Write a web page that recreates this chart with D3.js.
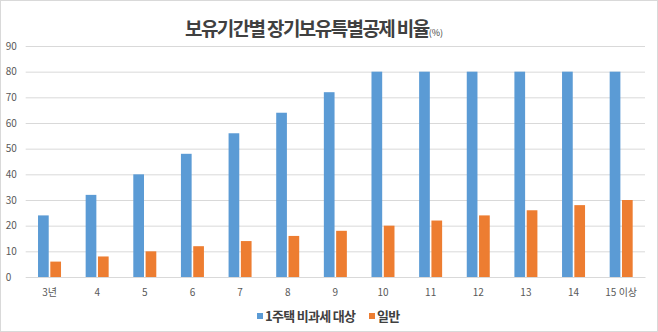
<!DOCTYPE html>
<html><head><meta charset="utf-8">
<script src="https://cdn.jsdelivr.net/npm/d3@7"></script>
<style>
html,body{margin:0;padding:0;background:#fff;}
svg{display:block;font-family:"Noto Sans CJK KR","Noto Sans",sans-serif;}
</style></head>
<body><svg id="c" width="658" height="332"></svg>
<script>
const categories = ["3년","4","5","6","7","8","9","10","11","12","13","14","15 이상"];
const seriesNames = ["1주택 비과세 대상","일반"];
const oneHouse = [24,32,40,48,56,64,72,80,80,80,80,80,80];
const general = [6,8,10,12,14,16,18,20,22,24,26,28,30];
const yTicks = [0,10,20,30,40,50,60,70,80,90];
const colors = ["#5B9BD5","#ED7D31"];

(function(){
const svg = d3.select("#c");
svg.append("rect").attr("x",0.5).attr("y",0.5).attr("width",657).attr("height",331)
  .attr("fill","#fff").attr("stroke","#d9d9d9");

const pl = 25.7, pr = 645, pt = 46, pb = 277;
const x = d3.scaleBand().domain(categories).range([pl,pr]).paddingInner(0).paddingOuter(0);
const y = d3.scaleLinear().domain([0,90]).range([pb,pt]);

const gy = svg.append("g").attr("transform",`translate(${pl},0)`)
  .call(d3.axisLeft(y).tickValues(yTicks).tickSize(-(pr-pl)).tickPadding(0));
gy.select(".domain").remove();
gy.selectAll(".tick line").attr("stroke","#d9d9d9").attr("stroke-width",1);
gy.selectAll(".tick text").attr("x",-20).attr("text-anchor","start")
  .attr("fill","#595959").style("font-size","10px").style("font-family","'Noto Sans CJK KR',sans-serif");

const gx = svg.append("g").attr("transform",`translate(0,${pb})`)
  .call(d3.axisBottom(x).tickSize(0).tickPadding(12));
gx.select(".domain").attr("stroke","#d9d9d9");
gx.selectAll(".tick text").attr("fill","#595959").style("font-size","10px")
  .style("font-family","'Noto Sans CJK KR',sans-serif");

const x1 = d3.scaleBand().domain([0,1]).range([x.bandwidth()/2-11.5, x.bandwidth()/2+11.5]).paddingInner(0.13);
const data = categories.map((c,i)=>({c, v:[oneHouse[i], general[i]]}));
const g = svg.append("g");
data.forEach(d=>{
  d.v.forEach((v,k)=>{
    g.append("rect").attr("x",x(d.c)+x1(k)).attr("y",y(v))
      .attr("width",x1.bandwidth()).attr("height",y(0)-y(v)).attr("fill",colors[k]);
  });
});

const title = svg.append("text").attr("x",185).attr("y",36).attr("text-anchor","start")
  .attr("fill","#404040").style("font-size","19px").style("font-weight","bold")
  .style("letter-spacing","-1.6px");
title.append("tspan").text("보유기간별 장기보유특별공제 비율");
title.append("tspan").text("(%)").style("font-size","9px").style("font-weight","normal").style("letter-spacing","0px");

const leg = svg.append("g");
const items = [{x:257,n:seriesNames[0],c:colors[0]},{x:369,n:seriesNames[1],c:colors[1]}];
items.forEach(it=>{
  leg.append("rect").attr("x",it.x).attr("y",313).attr("width",6).attr("height",6).attr("fill",it.c);
  leg.append("text").attr("x",it.x+8).attr("y",321).attr("fill","#404040")
    .style("font-size","13px").style("font-weight","bold").style("letter-spacing","-0.7px").text(it.n);
});
})();
</script></body></html>
